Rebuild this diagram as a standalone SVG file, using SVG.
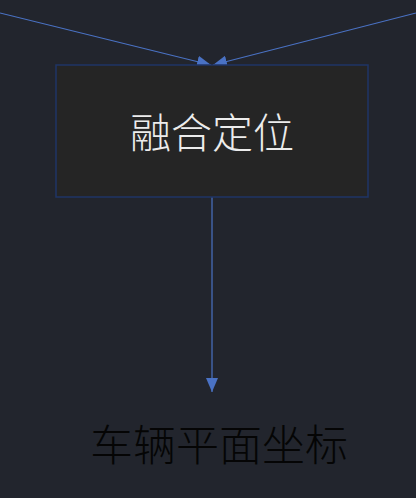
<svg xmlns="http://www.w3.org/2000/svg" width="416" height="498" viewBox="0 0 416 498">
  <defs>
    <marker id="arrow" viewBox="0 0 14 12" refX="14" refY="6" markerWidth="14" markerHeight="12" markerUnits="userSpaceOnUse" orient="auto">
      <path d="M0,0 L14,6 L0,12 Z" fill="#4a72c4"/>
    </marker>
    <style>
      .edge { stroke: #4a72c4; stroke-width: 1.2; fill: none; marker-end: url(#arrow); }
      .label { font-family: "Noto Sans CJK SC", "Noto Sans", sans-serif; font-size: 41px; font-weight: 300; text-anchor: middle; dominant-baseline: central; }
    </style>
  </defs>
  <rect width="416" height="498" fill="#22252d"/>
  <g id="connectors">
    <line class="edge" x1="0" y1="13" x2="211" y2="65"/>
    <line class="edge" x1="416" y1="13" x2="213" y2="65"/>
    <line class="edge" x1="212" y1="197" x2="212" y2="392"/>
  </g>
  <g id="fusion">
    <rect x="56" y="65" width="312" height="132" fill="#252525" stroke="#1f3566" stroke-width="1.5"/>
    <text class="label" x="212" y="130" fill="#ececec">融合定位</text>
  </g>
  <g id="vehicle-coords">
    <text class="label" x="219" y="442" fill="#050505" style="font-size:43px">车辆平面坐标</text>
  </g>
</svg>
